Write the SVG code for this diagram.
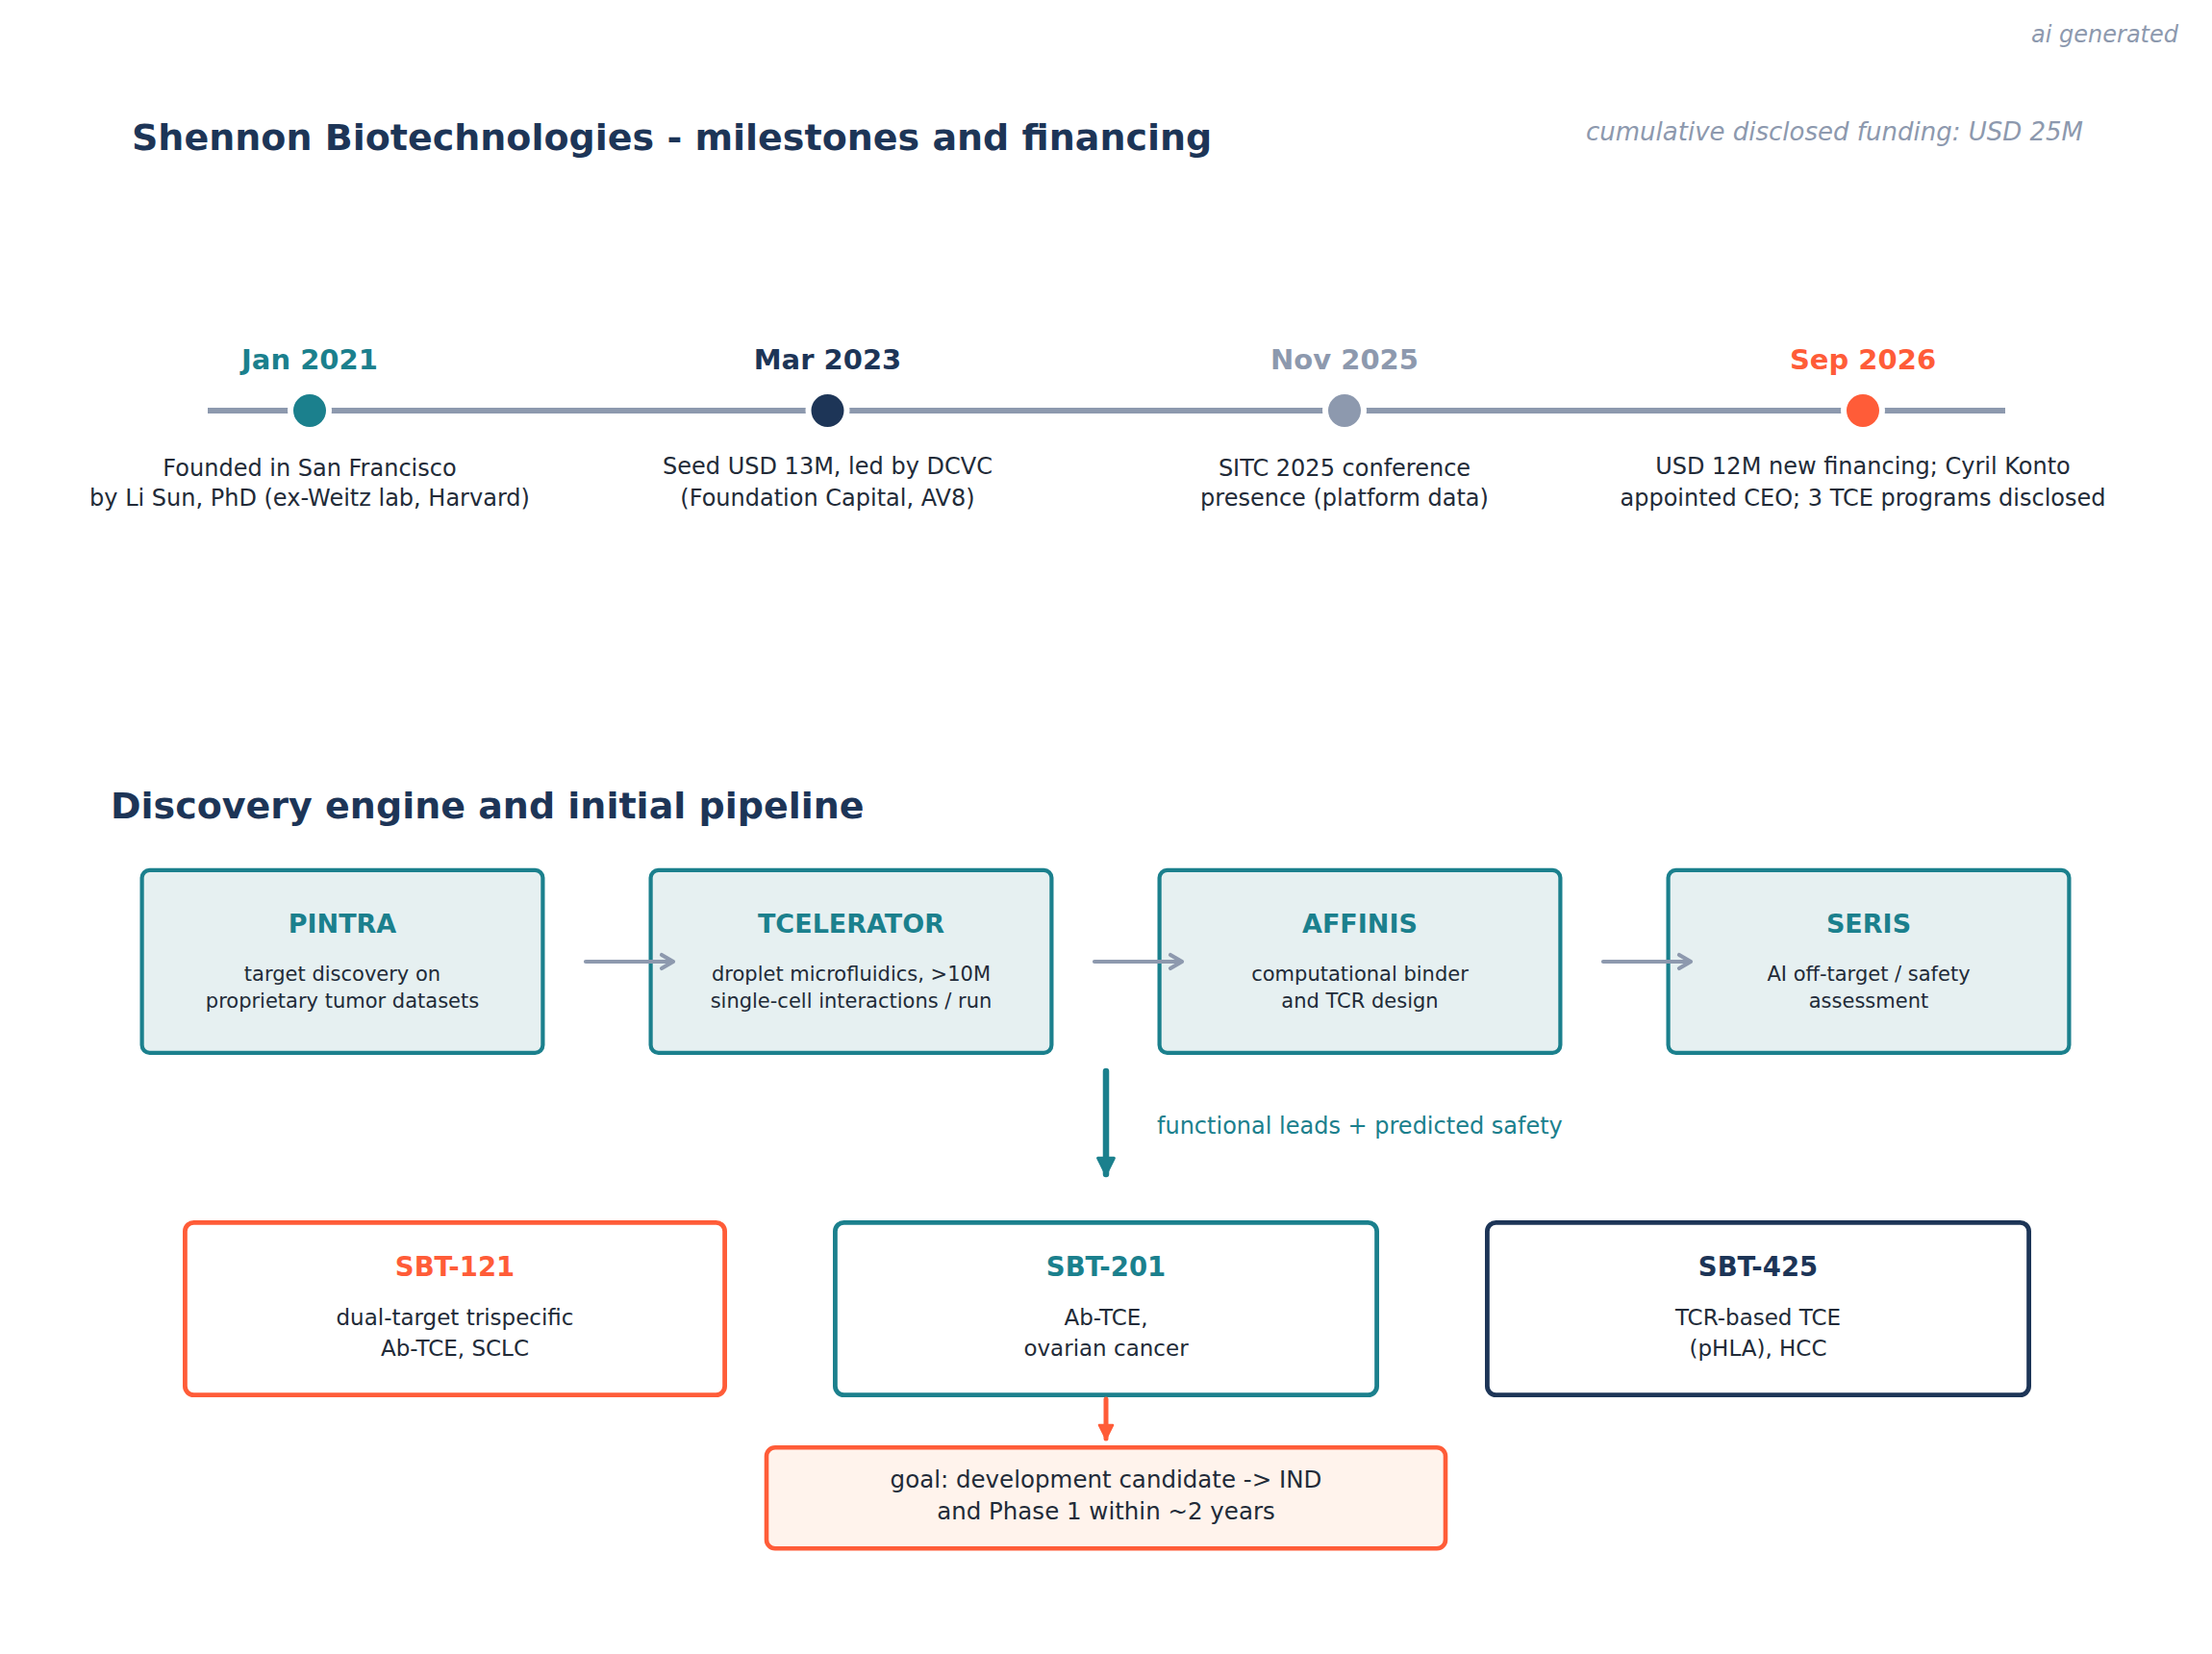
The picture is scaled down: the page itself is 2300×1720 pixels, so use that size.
<svg xmlns="http://www.w3.org/2000/svg" width="2300" height="1720" viewBox="0 0 2300 1720">
<defs>
<style>
text{font-family:"DejaVu Sans","Liberation Sans",sans-serif;}
.i{font-style:italic;fill:#8d99ae;}
.h1{font-size:38px;fill:#1d3557;font-weight:bold;}
.date{font-size:29px;font-weight:bold;text-anchor:middle;}
.tdesc{font-size:24px;fill:#222b38;text-anchor:middle;}
.plat rect{fill:#e6f0f1;stroke:#1b808d;stroke-width:4.2;}
.ptitle{font-size:27px;font-weight:bold;fill:#1b808d;text-anchor:middle;}
.pdesc{font-size:21px;fill:#222b38;text-anchor:middle;}
.prog rect{fill:#ffffff;stroke-width:4.8;}
.stitle{font-size:27.5px;font-weight:bold;text-anchor:middle;}
.sdesc{font-size:23px;fill:#222b38;text-anchor:middle;}
.gdesc{font-size:24.5px;fill:#222b38;text-anchor:middle;}
.garrow{stroke:#8d99ae;stroke-width:4.2;fill:none;stroke-linecap:round;stroke-linejoin:round;}
</style>
<marker id="headTeal" viewBox="0 0 10 10" refX="9" refY="5" markerWidth="3.2" markerHeight="3.2" orient="auto" markerUnits="strokeWidth">
<path d="M1,1 L9,5 L1,9 Z" fill="#1b808d" stroke="#1b808d" stroke-width="1.5" stroke-linejoin="round"/>
</marker>
<marker id="headOrange" viewBox="0 0 10 10" refX="9" refY="5" markerWidth="3.5" markerHeight="3.5" orient="auto" markerUnits="strokeWidth">
<path d="M1,1 L9,5 L1,9 Z" fill="#ff5c38" stroke="#ff5c38" stroke-width="1.5" stroke-linejoin="round"/>
</marker>
</defs>
<rect x="0" y="0" width="2300" height="1720" fill="#ffffff"/>

<text class="i" x="2265" y="43.5" font-size="24" text-anchor="end">ai generated</text>
<text class="h1" x="137" y="156">Shennon Biotechnologies - milestones and financing</text>
<text class="i" x="2166" y="146" font-size="26" text-anchor="end">cumulative disclosed funding: USD 25M</text>

<g id="timeline">
<line x1="216" y1="427" x2="2085" y2="427" stroke="#8d99ae" stroke-width="6"/>
</g>

<g id="m-jan2021">
<circle cx="322" cy="427" r="23" fill="#ffffff"/>
<circle cx="322" cy="427" r="17" fill="#1b808d"/>
<text class="date" x="322" y="384" fill="#1b808d">Jan 2021</text>
<text class="tdesc" x="322" y="495">Founded in San Francisco</text>
<text class="tdesc" x="322" y="526">by Li Sun, PhD (ex-Weitz lab, Harvard)</text>
</g>
<g id="m-mar2023">
<circle cx="860.5" cy="427" r="23" fill="#ffffff"/>
<circle cx="860.5" cy="427" r="17" fill="#1d3557"/>
<text class="date" x="860.5" y="384" fill="#1d3557">Mar 2023</text>
<text class="tdesc" x="860.5" y="493">Seed USD 13M, led by DCVC</text>
<text class="tdesc" x="860.5" y="526">(Foundation Capital, AV8)</text>
</g>
<g id="m-nov2025">
<circle cx="1398" cy="427" r="23" fill="#ffffff"/>
<circle cx="1398" cy="427" r="17" fill="#8d99ae"/>
<text class="date" x="1398" y="384" fill="#8d99ae">Nov 2025</text>
<text class="tdesc" x="1398" y="495">SITC 2025 conference</text>
<text class="tdesc" x="1398" y="526">presence (platform data)</text>
</g>
<g id="m-sep2026">
<circle cx="1937" cy="427" r="23" fill="#ffffff"/>
<circle cx="1937" cy="427" r="17" fill="#ff5c38"/>
<text class="date" x="1937" y="384" fill="#ff5c38">Sep 2026</text>
<text class="tdesc" x="1937" y="493">USD 12M new financing; Cyril Konto</text>
<text class="tdesc" x="1937" y="526">appointed CEO; 3 TCE programs disclosed</text>
</g>

<text class="h1" x="115" y="851">Discovery engine and initial pipeline</text>

<g id="pintra" class="plat">
<rect x="147.6" y="904.8" width="416.8" height="190" rx="8"/>
<text class="ptitle" x="356" y="969.5">PINTRA</text>
<text class="pdesc" x="356" y="1019.5">target discovery on</text>
<text class="pdesc" x="356" y="1047.5">proprietary tumor datasets</text>
</g>
<g id="tcelerator" class="plat">
<rect x="676.6" y="904.8" width="416.8" height="190" rx="8"/>
<text class="ptitle" x="885" y="969.5">TCELERATOR</text>
<text class="pdesc" x="885" y="1019.5">droplet microfluidics, &gt;10M</text>
<text class="pdesc" x="885" y="1047.5">single-cell interactions / run</text>
</g>
<g id="affinis" class="plat">
<rect x="1205.6" y="904.8" width="416.8" height="190" rx="8"/>
<text class="ptitle" x="1414" y="969.5">AFFINIS</text>
<text class="pdesc" x="1414" y="1019.5">computational binder</text>
<text class="pdesc" x="1414" y="1047.5">and TCR design</text>
</g>
<g id="seris" class="plat">
<rect x="1734.6" y="904.8" width="416.8" height="190" rx="8"/>
<text class="ptitle" x="1943" y="969.5">SERIS</text>
<text class="pdesc" x="1943" y="1019.5">AI off-target / safety</text>
<text class="pdesc" x="1943" y="1047.5">assessment</text>
</g>

<g id="sbt121" class="prog">
<rect x="192.4" y="1271.4" width="561.2" height="179.2" rx="9" stroke="#ff5c38"/>
<text class="stitle" x="473" y="1326.5" fill="#ff5c38">SBT-121</text>
<text class="sdesc" x="473" y="1377.5">dual-target trispecific</text>
<text class="sdesc" x="473" y="1409.5">Ab-TCE, SCLC</text>
</g>
<g id="sbt201" class="prog">
<rect x="868.4" y="1271.4" width="563.2" height="179.2" rx="9" stroke="#1b808d"/>
<text class="stitle" x="1150" y="1326.5" fill="#1b808d">SBT-201</text>
<text class="sdesc" x="1150" y="1377.5">Ab-TCE,</text>
<text class="sdesc" x="1150" y="1409.5">ovarian cancer</text>
</g>
<g id="sbt425" class="prog">
<rect x="1546.4" y="1271.4" width="563.2" height="179.2" rx="9" stroke="#1d3557"/>
<text class="stitle" x="1828" y="1326.5" fill="#1d3557">SBT-425</text>
<text class="sdesc" x="1828" y="1377.5">TCR-based TCE</text>
<text class="sdesc" x="1828" y="1409.5">(pHLA), HCC</text>
</g>

<g id="goal">
<rect x="797" y="1505.2" width="706" height="105" rx="9" fill="#fff3ec" stroke="#ff5c38" stroke-width="4.6"/>
<text class="gdesc" x="1150" y="1547">goal: development candidate -&gt; IND</text>
<text class="gdesc" x="1150" y="1579.5">and Phase 1 within ~2 years</text>
</g>

<g id="connectors">
<path class="garrow" d="M609,1000 H700 M688,993 L700,1000 L688,1007"/>
<path class="garrow" d="M1138,1000 H1229 M1217,993 L1229,1000 L1217,1007"/>
<path class="garrow" d="M1667,1000 H1758 M1746,993 L1758,1000 L1746,1007"/>
<line x1="1150" y1="1114" x2="1150" y2="1221" stroke="#1b808d" stroke-width="6.5" stroke-linecap="round" marker-end="url(#headTeal)"/>
<text x="1203" y="1179" font-size="24" fill="#1b808d">functional leads + predicted safety</text>
<line x1="1150" y1="1455" x2="1150" y2="1496" stroke="#ff5c38" stroke-width="5" stroke-linecap="round" marker-end="url(#headOrange)"/>
</g>
</svg>
